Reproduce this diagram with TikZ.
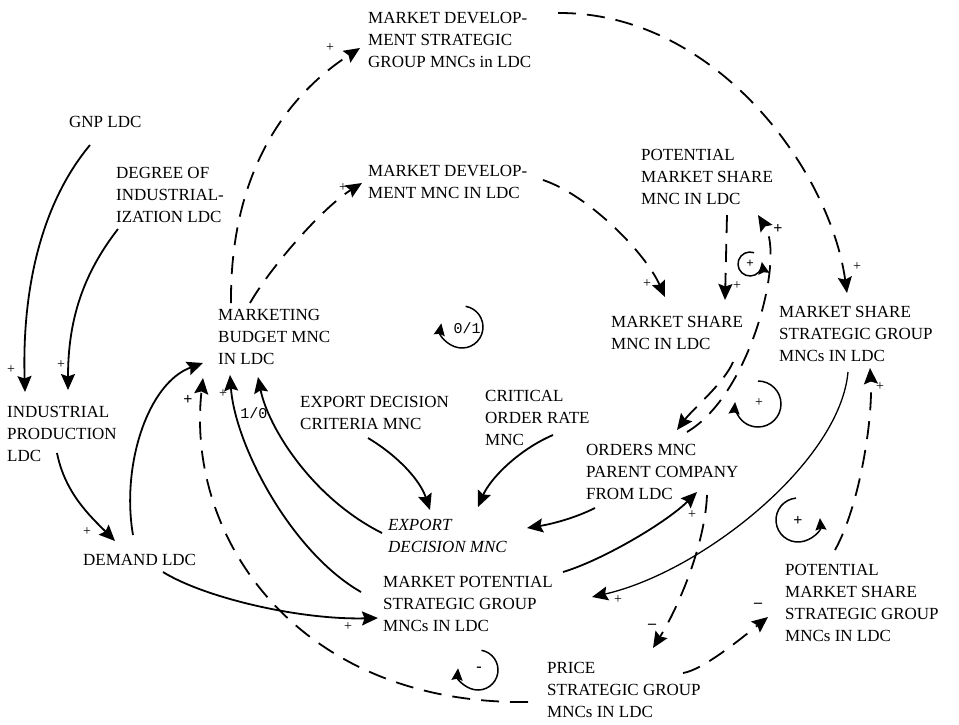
\documentclass[tikz,border=0pt]{standalone}
\usepackage{fontspec}
\setmainfont{Liberation Serif}
\newfontfamily\lmono{Liberation Mono}
\usetikzlibrary{arrows.meta}
\begin{document}
\begin{tikzpicture}[x=1pt,y=-1pt,
  lbl/.style={anchor=north west, inner sep=0pt, align=left, font=\fontsize{17}{22}\selectfont},
  sgn/.style={inner sep=0pt, font=\fontsize{14}{14}\selectfont},
  bsgn/.style={inner sep=0pt, font=\fontsize{16}{16}\selectfont\bfseries},
  lnk/.style={line width=1.8pt, -{Stealth[length=16pt,width=14pt,inset=2.5pt]}},
  thinlnk/.style={lnk, line width=1.3pt},
  dlnk/.style={lnk, dash pattern=on 18pt off 11pt},
  lp/.style={line width=1.5pt, -{Stealth[length=12pt,width=11pt,inset=1.5pt]}}
]
\useasboundingbox (0,0) rectangle (959,724);

% ---------- variables ----------
\node[lbl] (mdsg) at (368,12) {MARKET DEVELOP-\\MENT STRATEGIC\\GROUP MNCs in LDC};
\node[lbl] (gnp) at (69,116) {GNP LDC};
\node[lbl] (deg) at (116,167) {DEGREE OF\\INDUSTRIAL-\\IZATION LDC};
\node[lbl] (mdmnc) at (368,165) {MARKET DEVELOP-\\MENT MNC IN LDC};
\node[lbl] (mb) at (218,309) {MARKETING\\BUDGET MNC\\IN LDC};
\node[lbl] (pmsmnc) at (641,149) {POTENTIAL\\MARKET SHARE\\MNC IN LDC};
\node[lbl] (msmnc) at (611,316) {MARKET SHARE\\MNC IN LDC};
\node[lbl] (mssg) at (779,306) {MARKET SHARE\\STRATEGIC GROUP\\MNCs IN LDC};
\node[lbl] (ip) at (7,406) {INDUSTRIAL\\PRODUCTION\\LDC};
\node[lbl] (edc) at (300,396) {EXPORT DECISION\\CRITERIA MNC};
\node[lbl] (cor) at (485,390) {CRITICAL\\ORDER RATE\\MNC};
\node[lbl] (ord) at (586,444) {ORDERS MNC\\PARENT COMPANY\\FROM LDC};
\node[lbl, font=\fontsize{17}{22}\selectfont\itshape] (ed) at (388,519) {EXPORT\\DECISION MNC};
\node[lbl] (dem) at (83,554) {DEMAND LDC};
\node[lbl] (mpsg) at (383,576) {MARKET POTENTIAL\\STRATEGIC GROUP\\MNCs IN LDC};
\node[lbl] (pmssg) at (785,564) {POTENTIAL\\MARKET SHARE\\STRATEGIC GROUP\\MNCs IN LDC};
\node[lbl] (price) at (547,662) {PRICE\\STRATEGIC GROUP\\MNCs IN LDC};

% ---------- solid links ----------
\draw[lnk] ([shift={(21,29)}]gnp.north west) .. controls +(-50,60) and +(-3,-100) .. ([shift={(18,-14)}]ip.north west);
\draw[lnk] ([shift={(2,62)}]deg.north west) .. controls +(-35,45) and +(0,-70) .. ([shift={(61,-16)}]ip.north west);
\draw[lnk] ([shift={(50,47)}]ip.north west) .. controls +(8,40) and +(-25,-25) .. ([shift={(32,-13)}]dem.north west);
\draw[lnk] ([shift={(50,-19)}]dem.north west) .. controls +(-12,-70) and +(-55,20) .. ([shift={(-15,54)}]mb.north west);
\draw[lnk] ([shift={(80,18)}]dem.north west) .. controls +(40,25) and +(-80,2) .. ([shift={(-5,42)}]mpsg.north west);
\draw[lnk] ([shift={(-22,16)}]mpsg.north west) .. controls +(-70,-40) and +(5,70) .. ([shift={(12,66)}]mb.north west);
\draw[lnk] ([shift={(-6,14)}]ed.north west) .. controls +(-70,-35) and +(10,50) .. ([shift={(40,68)}]mb.north west);
\draw[lnk] ([shift={(68,42)}]edc.north west) .. controls +(30,18) and +(-10,-30) .. ([shift={(42,-9)}]ed.north west);
\draw[lnk] ([shift={(68,45)}]cor.north west) .. controls +(-35,15) and +(12,-28) .. ([shift={(90,-12)}]ed.north west);
\draw[lnk] ([shift={(9,64)}]ord.north west) .. controls +(-20,10) and +(25,-4) .. ([shift={(139,9)}]ed.north west);
\draw[lnk] ([shift={(180,-4)}]mpsg.north west) .. controls +(40,-12) and +(-30,30) .. ([shift={(111,48)}]ord.north west);
\draw[thinlnk] ([shift={(69,66)}]mssg.north west) .. controls +(-8,90) and +(110,-25) .. ([shift={(209,21)}]mpsg.north west);

% ---------- dashed links ----------
\draw[dlnk] ([shift={(121,51)}]ord.north west) .. controls +(-2,50) and +(25,-40) .. ([shift={(106,-14)}]price.north west);
\draw[dlnk] ([shift={(136,11)}]price.north west) .. controls +(20,-3) and +(-25,20) .. ([shift={(-17,53)}]pmssg.north west);
\draw[dlnk] ([shift={(50,-14)}]pmssg.north west) .. controls +(25,-45) and +(3,50) .. ([shift={(91,62)}]mssg.north west);
\draw[dlnk] ([shift={(122,46)}]msmnc.north west) .. controls +(-8,20) and +(15,-20) .. ([shift={(91,-14)}]ord.north west);
\draw[dlnk] ([shift={(101,-12)}]ord.north west) .. controls +(63,-37) and +(27,43) .. ([shift={(117,66)}]pmsmnc.north west);
\draw[dlnk] ([shift={(86,66)}]pmsmnc.north west) -- ([shift={(114,-16)}]msmnc.north west);
\draw[dlnk] ([shift={(175,15)}]mdmnc.north west) .. controls +(45,15) and +(-20,-45) .. ([shift={(54,-19)}]msmnc.north west);
\draw[dlnk] ([shift={(190,1)}]mdsg.north west) .. controls +(157,-1) and +(-17,-123) .. ([shift={(68,-13)}]mssg.north west);
\draw[dlnk] ([shift={(13,-6)}]mb.north west) .. controls +(-1,-123) and +(-80,52) .. ([shift={(-8,36)}]mdsg.north west);
\draw[dlnk] ([shift={(32,-6)}]mb.north west) .. controls +(20,-35) and +(-40,25) .. ([shift={(-6,18)}]mdmnc.north west);
\draw[dlnk] ([shift={(-19,40)}]price.north west) .. controls +(-228,3) and +(-18,162) .. ([shift={(-15,69)}]mb.north west);

% ---------- polarity signs ----------
\node[sgn] (s1) at (11,370) {+};
\node[sgn] (s2) at (61,365) {+};
\node[sgn] (s3) at (87,532) {+};
\node[sgn] (s4) at (348,627) {+};
\node[sgn] (s5) at (223,394) {+};
\node[bsgn] (s6) at (188,400) {+};
\node[sgn] (s7) at (692,515) {+};
\node[sgn] (s8) at (618,600) {+};
\node[sgn] (s9) at (880,387) {+};
\node[bsgn] (s10) at (778,229) {+};
\node[sgn] (s11) at (737,286) {+};
\node[sgn] (s12) at (647,284) {+};
\node[sgn] (s13) at (857,267) {+};
\node[sgn] (s14) at (330,48) {+};
\node[sgn] (s15) at (343,188) {+};
\node[bsgn] (s16) at (652,626) {–};
\node[bsgn] (s17) at (758,605) {–};
\node[inner sep=0pt, font=\lmono\fontsize{15}{15}\selectfont] (l10) at (254,413) {1/0};

% ---------- loop symbols ----------
\node[inner sep=0pt, font=\lmono\fontsize{15}{15}\selectfont] (lp1) at (467,328) {0/1};
\draw[lp] (462,327) ++(-80:21) arc[start angle=-80, end angle=190, radius=21];
\node[bsgn, font=\fontsize{13}{13}\selectfont\bfseries] (lp2) at (750,264) {+};
\draw[lp] (750,264) ++(-70:12) arc[start angle=-70, end angle=-370, radius=12];
\node[sgn] (lp3) at (759,403) {+};
\draw[lp] (758,404) ++(-90:23) arc[start angle=-90, end angle=185, radius=23];
\node[bsgn] (lp4) at (798,521) {+};
\draw[lp] (798,520) ++(-95:22) arc[start angle=-95, end angle=-365, radius=22];
\node[bsgn] (lp5) at (479,669) {-};
\draw[lp] (478,670) ++(-80:20) arc[start angle=-80, end angle=185, radius=20];
\end{tikzpicture}
\end{document}
